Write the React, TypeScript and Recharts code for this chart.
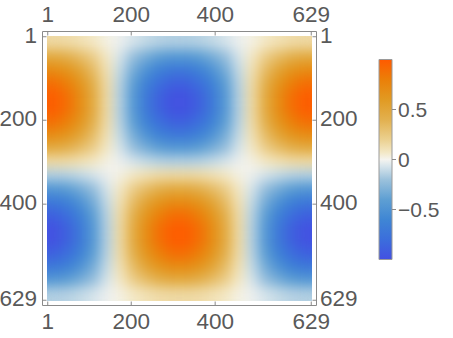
import { ScatterChart, Scatter, XAxis, YAxis, ReferenceArea } from "recharts";

// matrix is 629 x 629, ticks as in the reference
const N = 629;
const COL_TICKS = [1, 200, 400, 629];
const ROW_TICKS = [1, 200, 400, 629];
const BAR_TICKS = [-0.5, 0, 0.5];

// values on a 20 x 20 grid (top row first)
const r01 = [0.15, 0.14, 0.11, 0.07, 0.02, -0.02, -0.07, -0.11, -0.14, -0.15, -0.15, -0.14, -0.11, -0.07, -0.02, 0.02, 0.07, 0.11, 0.14, 0.15];
const r02 = [0.45, 0.4, 0.32, 0.21, 0.07, -0.07, -0.21, -0.32, -0.4, -0.45, -0.45, -0.4, -0.32, -0.21, -0.07, 0.07, 0.21, 0.32, 0.4, 0.45];
const r03 = [0.7, 0.63, 0.5, 0.32, 0.11, -0.11, -0.32, -0.5, -0.63, -0.7, -0.7, -0.63, -0.5, -0.32, -0.11, 0.11, 0.32, 0.5, 0.63, 0.7];
const r04 = [0.88, 0.79, 0.63, 0.4, 0.14, -0.14, -0.4, -0.63, -0.79, -0.88, -0.88, -0.79, -0.63, -0.4, -0.14, 0.14, 0.4, 0.63, 0.79, 0.88];
const r05 = [0.98, 0.88, 0.7, 0.45, 0.15, -0.15, -0.45, -0.7, -0.88, -0.98, -0.98, -0.88, -0.7, -0.45, -0.15, 0.15, 0.45, 0.7, 0.88, 0.98];
const r06 = [0.98, 0.88, 0.7, 0.45, 0.15, -0.15, -0.45, -0.7, -0.88, -0.98, -0.98, -0.88, -0.7, -0.45, -0.15, 0.15, 0.45, 0.7, 0.88, 0.98];
const r07 = [0.88, 0.79, 0.63, 0.4, 0.14, -0.14, -0.4, -0.63, -0.79, -0.88, -0.88, -0.79, -0.63, -0.4, -0.14, 0.14, 0.4, 0.63, 0.79, 0.88];
const r08 = [0.7, 0.63, 0.5, 0.32, 0.11, -0.11, -0.32, -0.5, -0.63, -0.7, -0.7, -0.63, -0.5, -0.32, -0.11, 0.11, 0.32, 0.5, 0.63, 0.7];
const r09 = [0.45, 0.4, 0.32, 0.21, 0.07, -0.07, -0.21, -0.32, -0.4, -0.45, -0.45, -0.4, -0.32, -0.21, -0.07, 0.07, 0.21, 0.32, 0.4, 0.45];
const r10 = [0.15, 0.14, 0.11, 0.07, 0.02, -0.02, -0.07, -0.11, -0.14, -0.15, -0.15, -0.14, -0.11, -0.07, -0.02, 0.02, 0.07, 0.11, 0.14, 0.15];
const r11 = [-0.15, -0.14, -0.11, -0.07, -0.02, 0.02, 0.07, 0.11, 0.14, 0.15, 0.15, 0.14, 0.11, 0.07, 0.02, -0.02, -0.07, -0.11, -0.14, -0.15];
const r12 = [-0.45, -0.4, -0.32, -0.21, -0.07, 0.07, 0.21, 0.32, 0.4, 0.45, 0.45, 0.4, 0.32, 0.21, 0.07, -0.07, -0.21, -0.32, -0.4, -0.45];
const r13 = [-0.7, -0.63, -0.5, -0.32, -0.11, 0.11, 0.32, 0.5, 0.63, 0.7, 0.7, 0.63, 0.5, 0.32, 0.11, -0.11, -0.32, -0.5, -0.63, -0.7];
const r14 = [-0.88, -0.79, -0.63, -0.4, -0.14, 0.14, 0.4, 0.63, 0.79, 0.88, 0.88, 0.79, 0.63, 0.4, 0.14, -0.14, -0.4, -0.63, -0.79, -0.88];
const r15 = [-0.98, -0.88, -0.7, -0.45, -0.15, 0.15, 0.45, 0.7, 0.88, 0.98, 0.98, 0.88, 0.7, 0.45, 0.15, -0.15, -0.45, -0.7, -0.88, -0.98];
const r16 = [-0.98, -0.88, -0.7, -0.45, -0.15, 0.15, 0.45, 0.7, 0.88, 0.98, 0.98, 0.88, 0.7, 0.45, 0.15, -0.15, -0.45, -0.7, -0.88, -0.98];
const r17 = [-0.88, -0.79, -0.63, -0.4, -0.14, 0.14, 0.4, 0.63, 0.79, 0.88, 0.88, 0.79, 0.63, 0.4, 0.14, -0.14, -0.4, -0.63, -0.79, -0.88];
const r18 = [-0.7, -0.63, -0.5, -0.32, -0.11, 0.11, 0.32, 0.5, 0.63, 0.7, 0.7, 0.63, 0.5, 0.32, 0.11, -0.11, -0.32, -0.5, -0.63, -0.7];
const r19 = [-0.45, -0.4, -0.32, -0.21, -0.07, 0.07, 0.21, 0.32, 0.4, 0.45, 0.45, 0.4, 0.32, 0.21, 0.07, -0.07, -0.21, -0.32, -0.4, -0.45];
const r20 = [-0.15, -0.14, -0.11, -0.07, -0.02, 0.02, 0.07, 0.11, 0.14, 0.15, 0.15, 0.14, 0.11, 0.07, 0.02, -0.02, -0.07, -0.11, -0.14, -0.15];
const grid = [r01, r02, r03, r04, r05, r06, r07, r08, r09, r10, r11, r12, r13, r14, r15, r16, r17, r18, r19, r20];

// colour scale (value -> colour)
const STOPS: [number, string][] = [
  [-1, "#4350e2"],
  [-0.8, "#3b6edc"],
  [-0.6, "#3f86d4"],
  [-0.4, "#5e9fd3"],
  [-0.2, "#9cc2dc"],
  [-0.07, "#d6e4eb"],
  [0, "#f5f4ef"],
  [0.07, "#f3e8c6"],
  [0.2, "#ebd08f"],
  [0.4, "#e2b04e"],
  [0.6, "#e19a22"],
  [0.8, "#eb7f08"],
  [1, "#ff5a00"],
];

const hex = (h: string) => [1, 3, 5].map((i) => parseInt(h.slice(i, i + 2), 16));
function colorOf(v: number) {
  for (let i = 1; i < STOPS.length; i++) {
    const [v1, c1] = STOPS[i];
    const [v0, c0] = STOPS[i - 1];
    if (v <= v1 || i === STOPS.length - 1) {
      const t = Math.max(0, Math.min(1, (v - v0) / (v1 - v0)));
      const a = hex(c0), b = hex(c1);
      const m = a.map((x, k) => Math.round(x + (b[k] - x) * t));
      return `rgb(${m[0]},${m[1]},${m[2]})`;
    }
  }
  return STOPS[0][1];
}

const DOMAIN: [number, number] = [-11.5, 641.5];
const PLOT = 274;
const PX = PLOT / (DOMAIN[1] - DOMAIN[0]);
const STEP = N / grid.length;

const cells = grid.flatMap((row, i) =>
  row.map((v, j) => ({ x: 0.5 + (j + 0.5) * STEP, y: 0.5 + (i + 0.5) * STEP, v }))
);

const FONT = "'Liberation Sans', Arial, sans-serif";
const TXT = "#595959";
const LINE = "#8a8a8a";

const CellShape = (p: any) => {
  const s = STEP * PX + 0.6;
  const v = p.payload?.v ?? p.v;
  return <rect x={p.cx - s / 2} y={p.cy - s / 2} width={s} height={s} fill={colorOf(v)} />;
};

const frameTick = (side: "top" | "bottom" | "left" | "right") => (p: any) => {
  const { x, y, payload } = p;
  const label = String(payload.value);
  const common = { fontFamily: FONT, fontSize: 22.5, fill: TXT };
  if (side === "top")
    return (
      <g>
        <line x1={x} y1={y} x2={x} y2={y + 4} stroke={LINE} />
        <text x={x} y={y - 9.3} textAnchor="middle" {...common}>{label}</text>
      </g>
    );
  if (side === "bottom")
    return (
      <g>
        <line x1={x} y1={y} x2={x} y2={y - 4} stroke={LINE} />
        <text x={x} y={y + 23.5} textAnchor="middle" {...common}>{label}</text>
      </g>
    );
  if (side === "left")
    return (
      <g>
        <line x1={x} y1={y} x2={x + 4} y2={y} stroke={LINE} />
        <text x={x - 5.5} y={y + 6} textAnchor="end" {...common}>{label}</text>
      </g>
    );
  return (
    <g>
      <line x1={x} y1={y} x2={x - 4} y2={y} stroke={LINE} />
      <text x={x + 3.5} y={y + 6} textAnchor="start" {...common}>{label}</text>
    </g>
  );
};

const barTick = (p: any) => {
  const { x, y, payload } = p;
  const v = payload.value;
  const label = v < 0 ? "\u2212" + String(-v) : String(v);
  return (
    <g>
      <line x1={x} y1={y} x2={x + 4} y2={y} stroke={LINE} />
      <text x={x + 6} y={y + 7.3} fontFamily={FONT} fontSize={21} fill={TXT}>{label}</text>
    </g>
  );
};

const axisCommon = {
  type: "number" as const,
  domain: DOMAIN,
  allowDataOverflow: true,
  interval: 0 as const,
  tickLine: false,
  tickSize: 0,
  tickMargin: 0,
  axisLine: { stroke: LINE },
};

export default function App() {
  return (
    <div style={{ position: "absolute", left: 0, top: 0, width: 453, height: 338, background: "#fff" }}>
      <style>{`.heat { filter: url(#soft); }`}</style>
      <svg width={0} height={0} style={{ position: "absolute" }}>
        <defs>
          <filter id="soft" x="0" y="0" width="1" height="1" colorInterpolationFilters="sRGB">
            <feGaussianBlur stdDeviation="6" />
            <feComponentTransfer>
              <feFuncA type="table" tableValues="1 1" />
            </feComponentTransfer>
          </filter>
          <linearGradient id="cbar" x1="0" y1="1" x2="0" y2="0">
            {STOPS.map(([v, c]) => (
              <stop key={v} offset={(v + 1) / 2} stopColor={c} />
            ))}
          </linearGradient>
        </defs>
      </svg>

      <ScatterChart
        width={453}
        height={338}
        margin={{ top: 0, right: 0, bottom: 0, left: 0 }}
        style={{ position: "absolute", left: 0, top: 0 }}
      >
        <XAxis xAxisId="b" dataKey="x" orientation="bottom" height={32.5} ticks={COL_TICKS} tick={frameTick("bottom")} {...axisCommon} />
        <XAxis xAxisId="t" dataKey="x" orientation="top" height={31.5} ticks={COL_TICKS} tick={frameTick("top")} {...axisCommon} />
        <YAxis yAxisId="l" dataKey="y" orientation="left" width={42.5} reversed ticks={ROW_TICKS} tick={frameTick("left")} {...axisCommon} />
        <YAxis yAxisId="r" dataKey="y" orientation="right" width={136.5} reversed ticks={ROW_TICKS} tick={frameTick("right")} {...axisCommon} />
        <Scatter data={cells} xAxisId="b" yAxisId="l" shape={CellShape} className="heat" isAnimationActive={false} />
      </ScatterChart>

      <ScatterChart
        width={453}
        height={338}
        margin={{ top: 59.5, right: 0, bottom: 78.5, left: 379 }}
        style={{ position: "absolute", left: 0, top: 0 }}
      >
        <XAxis type="number" dataKey="x" domain={[0, 1]} hide allowDataOverflow />
        <YAxis
          type="number"
          dataKey="y"
          orientation="right"
          width={61}
          domain={[-1, 1]}
          ticks={BAR_TICKS}
          interval={0}
          allowDataOverflow
          axisLine={false}
          tickLine={false}
          tickSize={0}
          tickMargin={0}
          tick={barTick}
        />
        <ReferenceArea x1={0} x2={1} y1={-1} y2={1} fill="url(#cbar)" fillOpacity={1} stroke="#9a9a9a" strokeWidth={1} />
      </ScatterChart>
    </div>
  );
}
